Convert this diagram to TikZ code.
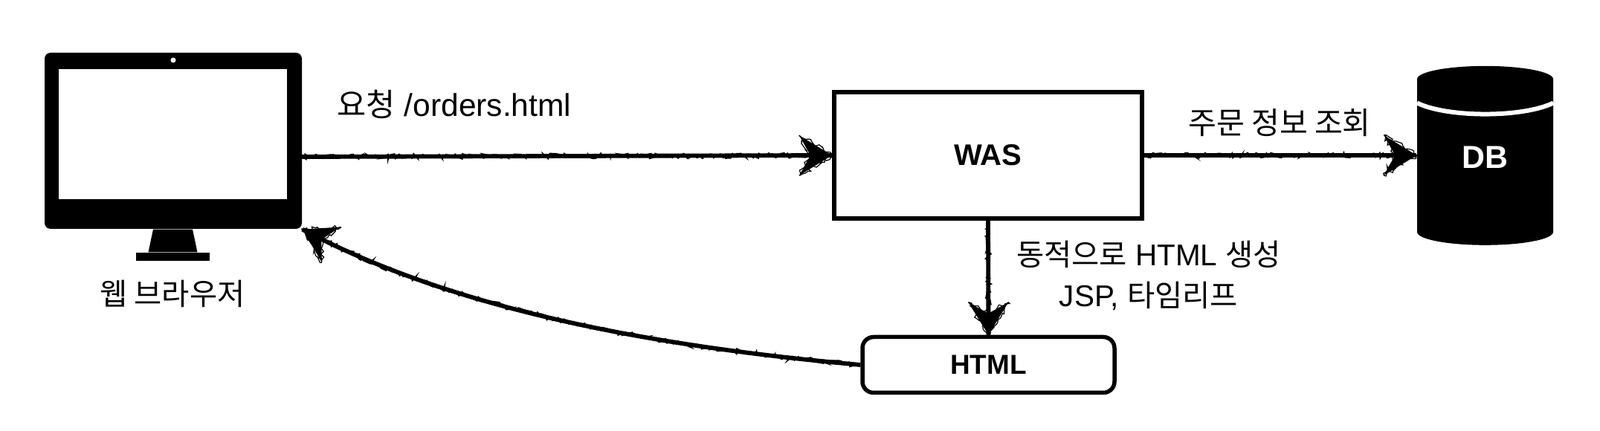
\documentclass[tikz,border=0pt]{standalone}
\usepackage{fontspec}
\setmainfont{Liberation Sans}
\newfontfamily\cjk{Noto Sans CJK KR}
\usetikzlibrary{arrows.meta, positioning, shapes.geometric, calc, decorations.pathmorphing, decorations.markings}

\begin{document}
\begin{tikzpicture}
    % Define styles
    \tikzstyle{solid box} = [rectangle, fill=black, inner sep=0pt]
    \tikzstyle{hole} = [rectangle, fill=white, inner sep=0pt]
    \tikzstyle{caption} = [font=\fontsize{11.5}{14}\selectfont, inner sep=0pt]
    \tikzstyle{title} = [font=\fontsize{11.4}{14}\selectfont\bfseries, inner sep=0pt]
    \tikzstyle{rough} = [draw, line width=0.02cm, decorate, decoration={random steps, segment length=1pt, amplitude=1pt}]
    \tikzstyle{chalk} = [draw, line width=0.058cm, preaction={rough}, postaction={decorate, decoration={markings, mark=at position 1 with {
        \fill (-0.44,0.27) -- (0,0) -- (-0.44,-0.27) -- (-0.29,0) -- cycle;
        \draw[rough, line width=0.012cm] (-0.44,0.27) -- (0,0) -- (-0.44,-0.27);
        \draw[rough, line width=0.012cm] (-0.44,-0.27) -- (-0.29,0) -- (-0.44,0.27);
    }}}]

    \useasboundingbox (0,0) rectangle (21.52,5.8);

    % Monitor
    \node[solid box, rounded corners=0.08cm, minimum width=3.46cm, minimum height=2.37cm] (monitor) at (2.33,3.905) {};
    \node[hole, minimum width=3.07cm, minimum height=1.75cm] (screen) at (2.325,3.995) {};
    \node[hole, circle, minimum size=0.07cm] (camera) at (2.33,4.99) {};
    \node[solid box, minimum width=0.99cm, minimum height=0.11cm] (base) at (2.325,2.345) {};
    \fill (monitor.south) ++(-0.27,0) -- ++(0.53,0) -- ([xshift=0.33cm]base.north) -- ([xshift=-0.33cm]base.north) -- cycle;
    \coordinate (monitor out) at (4.06,3.69);

    % Server, template and database
    \node[rectangle, draw, line width=0.06cm, minimum width=4.14cm, minimum height=1.7cm, title] (was) at (13.29,3.71) {\raisebox{-0.01cm}{WAS}};
    \node[rectangle, draw, line width=0.055cm, rounded corners=0.15cm, minimum width=3.39cm, minimum height=0.75cm, inner sep=0pt, font=\fontsize{10.5}{13}\selectfont\bfseries] (html) at (13.295,0.89) {\raisebox{-0.02cm}{HTML}};
    \node[cylinder, shape border rotate=90, aspect=0.57, fill=black, text=white, minimum width=1.83cm, minimum height=2.41cm, inner sep=0pt, font=\fontsize{12.2}{14}\selectfont\bfseries] (db) at (19.975,3.615) {\raisebox{0.135cm}{DB}};
    \draw[white, line width=0.06cm] ($(db.center)+(-0.915,0.80)$) arc[start angle=209.3, end angle=330.7, x radius=1.05cm, y radius=0.295cm];

    % Labels
    \node[caption] (browser label) at (2.32,1.85) {{\cjk 웹 브라우저}};
    \node[caption, font=\fontsize{12.1}{14}\selectfont] (request label) at (6.11,4.4) {{\cjk 요청} /orders.html};
    \node[caption, font=\fontsize{11.7}{14}\selectfont] (query label) at (17.21,4.15) {{\cjk 주문 정보 조회}};
    \node[caption, align=center] (render label) at (15.45,2.09) {{\cjk 동적으로} HTML {\cjk 생성}\\[0.06cm]JSP, {\cjk 타임리프}};

    % Connections
    \draw[chalk] (monitor out) -- (was.west);
    \draw[chalk] (was.east) -- (db.west |- was.east);
    \draw[chalk] (was.south) -- (html.north);
    \draw[chalk] (html.west) .. controls (9.0,1.12) and (6.2,1.58) .. (monitor.south east);
\end{tikzpicture}
\end{document}
